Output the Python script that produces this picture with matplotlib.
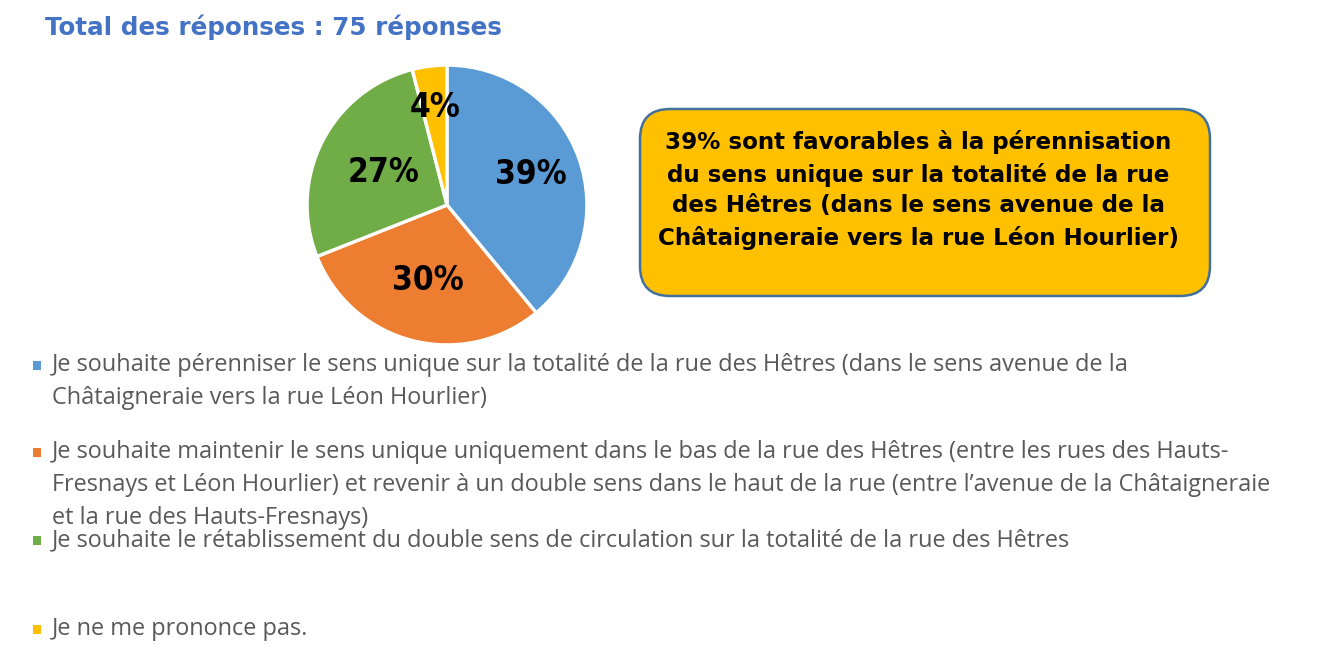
import matplotlib
matplotlib.use("Agg")
import matplotlib.pyplot as plt
from matplotlib.patches import FancyBboxPatch, Rectangle
import numpy as np

W, H = 1321, 656

# data
title = "Total des réponses : 75 réponses"
shares = [39, 30, 27, 4]
pct_labels = ["39%", "30%", "27%", "4%"]
colors = ["#5B9BD5", "#ED7D31", "#70AD47", "#FFC000"]
legend_lines = [
    ["Je souhaite pérenniser le sens unique sur la totalité de la rue des Hêtres (dans le sens avenue de la",
     "Châtaigneraie vers la rue Léon Hourlier)"],
    ["Je souhaite maintenir le sens unique uniquement dans le bas de la rue des Hêtres (entre les rues des Hauts-",
     "Fresnays et Léon Hourlier) et revenir à un double sens dans le haut de la rue (entre l\u2019avenue de la Châtaigneraie",
     "et la rue des Hauts-Fresnays)"],
    ["Je souhaite le rétablissement du double sens de circulation sur la totalité de la rue des Hêtres"],
    ["Je ne me prononce pas."],
]
callout = ("39% sont favorables à la pérennisation\n"
           "du sens unique sur la totalité de la rue\n"
           "des Hêtres (dans le sens avenue de la\n"
           "Châtaigneraie vers la rue Léon Hourlier)")

fig = plt.figure(figsize=(W / 100, H / 100), dpi=100)
fig.patch.set_facecolor("white")

# overlay axes in pixel units
ov = fig.add_axes([0, 0, 1, 1])
ov.set_xlim(0, W)
ov.set_ylim(H, 0)
ov.axis("off")

ov.text(45, 27, title, fontsize=17.7, fontweight="bold", color="#4472C4",
        family="DejaVu Sans", ha="left", va="center")

# callout box
box = FancyBboxPatch((640, 109), 570, 187,
                     boxstyle="round,pad=0,rounding_size=30",
                     facecolor="#FFC000", edgecolor="#41719C", lw=1.8)
ov.add_patch(box)
ov.text(918, 190, callout, fontsize=16.6, fontweight="bold", color="black",
        family="DejaVu Sans", ha="center", va="center",
        linespacing=1.43)

# legend
item_y = [365, 452, 540, 629]
line_gap = 33
for col, lines, y0 in zip(colors, legend_lines, item_y):
    ov.add_patch(Rectangle((33, y0 - 4), 8, 8.5, facecolor=col, edgecolor="none"))
    for k, ln in enumerate(lines):
        ov.text(52, y0 + k * line_gap, ln, fontsize=16.9, color="#595959",
                family=["Open Sans", "DejaVu Sans"], ha="left", va="center")

# pie
cx, cy, r = 447, 205, 142
pax = fig.add_axes([(cx - r) / W, 1 - (cy + r) / H, 2 * r / W, 2 * r / H])
wedges, _ = pax.pie(shares, colors=colors, startangle=90, counterclock=False,
                    wedgeprops=dict(edgecolor="white", linewidth=2.4))
pax.set_xlim(-1.015, 1.015)
pax.set_ylim(-1.015, 1.015)
pax.set_aspect("equal")
pax.axis("off")

label_dist = [0.64, 0.56, 0.51, 0.70]
for w, lab, d in zip(wedges, pct_labels, label_dist):
    ang = np.deg2rad((w.theta1 + w.theta2) / 2)
    pax.text(d * np.cos(ang), d * np.sin(ang), lab, fontsize=24,
             fontweight="bold", fontstretch="condensed", family="DejaVu Sans",
             ha="center", va="center", color="black")

fig.savefig("out.png", dpi=100)
